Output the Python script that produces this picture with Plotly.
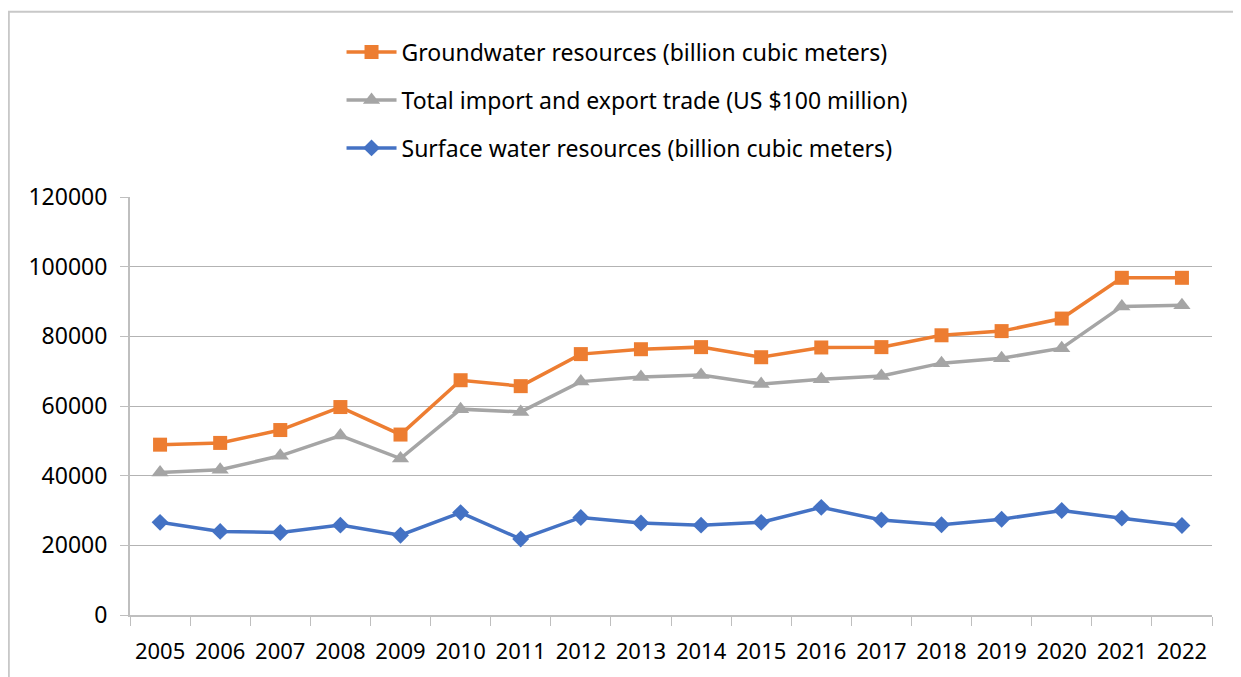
import plotly.graph_objects as go

years = [str(y) for y in range(2005, 2023)]

groundwater = [48900, 49400, 53100, 59700, 51800, 67400, 65700, 74900, 76300, 76900,
               74000, 76800, 76900, 80300, 81500, 85100, 96800, 96800]
trade = [40900, 41700, 45700, 51500, 44900, 59100, 58300, 67000, 68300, 68900,
         66300, 67700, 68600, 72300, 73700, 76600, 88600, 88900]
surface = [26600, 24000, 23700, 25800, 22900, 29400, 21800, 28000, 26400, 25800,
           26600, 30900, 27300, 25900, 27500, 30000, 27800, 25700]

names = ["Groundwater resources (billion cubic meters)",
         "Total import and export trade (US $100 million)",
         "Surface water resources (billion cubic meters)"]

fig = go.Figure()
fig.add_trace(go.Scatter(x=years, y=groundwater, name=names[0], mode="lines+markers",
                         legendgroup="a",
                         line=dict(color="#ED7D31", width=3.5),
                         marker=dict(symbol="square", size=14, color="#ED7D31")))
fig.add_trace(go.Scatter(x=years, y=trade, name=names[1], mode="lines+markers",
                         legendgroup="b",
                         line=dict(color="#A5A5A5", width=3.5),
                         marker=dict(symbol="triangle-up", size=15, color="#A5A5A5")))
fig.add_trace(go.Scatter(x=years, y=surface, name=names[2], mode="lines+markers",
                         legendgroup="c",
                         line=dict(color="#4472C4", width=3.5),
                         marker=dict(symbol="diamond", size=13, color="#4472C4")))

# outer chart frame (top, left, right)
fig.add_shape(type="path", xref="paper", yref="paper",
              path="M -0.112 -0.2 L -0.112 1.443 L 1.025 1.443 L 1.025 -0.2",
              line=dict(color="#c8c8c8", width=2))

# page body has an 8px margin, so the figure is sized to the visible area
fig.update_layout(
    width=1233, height=669,
    margin=dict(l=122, r=29, t=189, b=60),
    paper_bgcolor="white", plot_bgcolor="white",
    font=dict(family="Noto Sans", color="black"),
    showlegend=True,
    legend=dict(x=0.1955, y=1.398, xanchor="left", yanchor="top",
                font=dict(size=23, color="black"), itemwidth=50,
                tracegroupgap=15, bgcolor="rgba(0,0,0,0)"),
    xaxis=dict(type="category", showline=True, linecolor="#bfbfbf", linewidth=2,
               ticks="outside", tickson="boundaries", ticklen=9, tickcolor="#bfbfbf",
               showgrid=False, tickfont=dict(size=22), range=[-0.5, 17.5],
               ticklabelstandoff=16),
    yaxis=dict(range=[0, 120000], dtick=20000, showline=True, linecolor="#bfbfbf",
               linewidth=2, ticks="outside", ticklen=8, tickcolor="#bfbfbf",
               gridcolor="#b3b3b3", gridwidth=1, zeroline=False,
               tickfont=dict(size=23), tickformat="d", ticklabelstandoff=8),
)

fig.write_html("out.html")
